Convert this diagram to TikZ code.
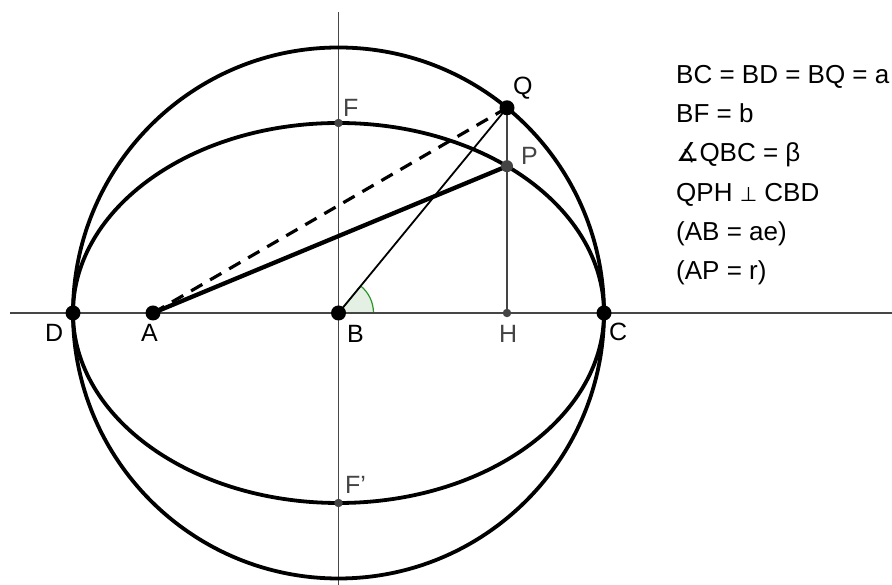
\documentclass[tikz,border=0pt]{standalone}
\usepackage{fontspec}
\setmainfont{Liberation Sans}
\newfontfamily\symfont{DejaVu Sans}
\definecolor{ptgray}{RGB}{68,68,68}
\definecolor{axgray}{RGB}{70,70,70}
\definecolor{anggreen}{RGB}{40,150,40}
\definecolor{angfill}{RGB}{228,240,228}
\begin{document}
\begin{tikzpicture}[x=1pt,y=1pt,
  bigpt/.style={circle,fill=black,inner sep=0pt,minimum size=15pt},
  smallpt/.style={circle,fill=ptgray,inner sep=0pt,minimum size=8.5pt},
  midpt/.style={circle,fill=ptgray,inner sep=0pt,minimum size=12pt},
  lbl/.style={anchor=base west,inner sep=0pt,font=\fontsize{25}{29}\selectfont},
  glbl/.style={lbl,text=ptgray},
  txt/.style={anchor=base west,inner sep=0pt,font=\fontsize{26}{30}\selectfont},
  axis/.style={axgray,line width=1.5pt},
  curve/.style={black,line width=3.8pt}]
\useasboundingbox (0,0) rectangle (892,585);
% points
\coordinate (B) at (338.5,272);
\coordinate (C) at (604,272);
\coordinate (D) at (73,272);
\coordinate (A) at (153,272);
\coordinate (H) at (507,272);
\coordinate (Q) at (507,477.2);
\coordinate (P) at (507,418.8);
\coordinate (F) at (338.5,462);
\coordinate (F2) at (338.5,82);
\coordinate (axL) at (10,272);
\coordinate (axR) at (892,272);
\coordinate (axT) at (338.5,573);
\coordinate (axB) at (338.5,0);
% angle
\draw[anggreen,line width=1.2pt,fill=angfill] (B) -- ++(35,0) arc (0:50.6:35) -- cycle;
% axes
\draw[axis] (axL) -- (axR);
\draw[axis] (axT) -- (axB);
% curves
\draw[curve] (B) circle [radius=265.5pt];
\draw[curve] (B) ellipse [x radius=265.5pt, y radius=190pt];
% segments
\draw[black,line width=1.8pt] (B) -- (Q);
\draw[ptgray,line width=2.4pt] (Q) -- (H);
\draw[black,line width=3.2pt,dash pattern=on 13pt off 9pt] (A) -- (Q);
\draw[black,line width=4.3pt] (A) -- (P);
% dots
\node[bigpt] (dA) at (A) {};
\node[bigpt] (dB) at (B) {};
\node[bigpt] (dC) at (C) {};
\node[bigpt] (dD) at (D) {};
\node[bigpt] (dQ) at (Q) {};
\node[midpt] (dP) at (P) {};
\node[smallpt] (dH) at (H) {};
\node[smallpt] (dF) at (F) {};
\node[smallpt] (dF2) at (F2) {};
% labels
\node[lbl] (lQ) at (513,490) {Q};
\node[glbl] (lP) at (521,420) {P};
\node[glbl] (lF) at (343,468) {F};
\node[glbl] (lF2) at (345,91) {F\symbol{"27}};
\node[lbl] (lB) at (347,242) {B};
\node[glbl] (lH) at (499,242) {H};
\node[lbl] (lC) at (609,244) {C};
\node[lbl] (lD) at (45,243) {D};
\node[lbl] (lA) at (141,243) {A};
% text block
\node[txt] (t1) at (676,501) {BC = BD = BQ = a};
\node[txt] (t2) at (676,462) {BF = b};
\node[txt] (t3) at (676,423) {{\symfont ∡}QBC = β};
\node[txt] (t4) at (676,383) {QPH {\symfont\fontsize{20}{24}\selectfont ⊥} CBD};
\node[txt] (t5) at (676,344) {(AB = ae)};
\node[txt] (t6) at (676,305) {(AP = r)};
\end{tikzpicture}
\end{document}
